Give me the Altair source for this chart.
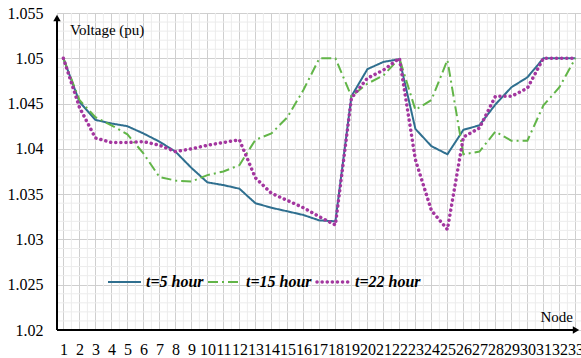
import altair as alt
import pandas as pd
import numpy as np

nodes = list(range(1, 34))
v_t5 = [1.05, 1.0452, 1.0432, 1.0428, 1.0425, 1.0417, 1.0408, 1.0397, 1.0379, 1.0363,
        1.0360, 1.0356, 1.0340, 1.0335, 1.0331, 1.0327, 1.0321, 1.0320, 1.0458, 1.0488,
        1.0496, 1.0499, 1.0422, 1.0403, 1.0394, 1.0421, 1.0426, 1.0449, 1.0468, 1.0479,
        1.05, 1.05, 1.05]
v_t15 = [1.05, 1.0454, 1.0435, 1.0426, 1.0416, 1.0395, 1.0369, 1.0365, 1.0364, 1.0371,
         1.0375, 1.0382, 1.0410, 1.0417, 1.0435, 1.0465, 1.05, 1.05, 1.0458, 1.0472,
         1.0481, 1.05, 1.0443, 1.0454, 1.0498, 1.0394, 1.0397, 1.0419, 1.0409, 1.0409,
         1.0448, 1.0468, 1.05]
v_t22 = [1.05, 1.0446, 1.0412, 1.0407, 1.0407, 1.0408, 1.0404, 1.0397, 1.0400, 1.0404,
         1.0407, 1.0410, 1.0368, 1.0351, 1.0343, 1.0335, 1.0325, 1.0316, 1.0456, 1.0478,
         1.0487, 1.05, 1.0388, 1.0332, 1.0311, 1.0413, 1.0423, 1.0458, 1.0458, 1.0467,
         1.05, 1.05, 1.05]
series_names = ["t=5 hour", "t=15 hour", "t=22 hour"]
y_ticks = [1.02, 1.025, 1.03, 1.035, 1.04, 1.045, 1.05, 1.055]

FONT = "Liberation Serif"
W, H = 524, 317
XDOM = [0.6, 33.35]
YDOM = [1.02, 1.055]

colors = ["#2f6f8f", "#62b548", "#a3369f"]
dashes = [[1, 0], [10, 4, 2, 4], [0.1, 5]]
widths = [2, 2, 3.5]
caps = ["butt", "butt", "round"]

xs = alt.Scale(domain=XDOM, nice=False, zero=False)
ys = alt.Scale(domain=YDOM, nice=False, zero=False)

XAX = alt.Axis(values=nodes, title=None, grid=True, gridColor="#cfcfcf",
               domain=False, ticks=False, labelFont=FONT, labelFontSize=16,
               labelColor="black", labelPadding=11, labelOverlap=False,
               labelFlush=False, format="d")
YAX = alt.Axis(values=y_ticks, title=None, grid=True, gridColor="#cfcfcf",
               domain=False, ticks=False, labelFont=FONT, labelFontSize=16,
               labelColor="black", labelPadding=14, format=".3~f")

# minor grid lines
minor_v = pd.DataFrame({"x": [n + 0.5 for n in range(1, 33)]})
minor_h = pd.DataFrame({"y": [round(1.02 + 0.001 * i, 3) for i in range(1, 35) if i % 5 != 0]})

grid_v = alt.Chart(minor_v).mark_rule(color="#ececec", strokeWidth=1).encode(
    x=alt.X("x:Q", scale=xs, axis=XAX))
grid_h = alt.Chart(minor_h).mark_rule(color="#ececec", strokeWidth=1).encode(
    y=alt.Y("y:Q", scale=ys, axis=YAX))

rows = []
for name, vals in zip(series_names, [v_t5, v_t15, v_t22]):
    for n, v in zip(nodes, vals):
        rows.append({"x": n, "y": v, "series": name})
df = pd.DataFrame(rows)

lines = []
for i, name in enumerate(series_names):
    lines.append(
        alt.Chart(df[df.series == name]).mark_line(
            color=colors[i], strokeWidth=widths[i], strokeDash=dashes[i], strokeCap=caps[i]
        ).encode(x=alt.X("x:Q", scale=xs, axis=XAX), y=alt.Y("y:Q", scale=ys, axis=YAX))
    )

# axis lines with arrows
one = pd.DataFrame({"a": [0]})
yline = alt.Chart(one).mark_rule(color="black", strokeWidth=2).encode(
    x=alt.value(0), y=alt.value(4), y2=alt.value(H))
xline = alt.Chart(one).mark_rule(color="black", strokeWidth=2).encode(
    x=alt.value(0), x2=alt.value(W - 6), y=alt.value(H))
yarrow = alt.Chart(one).mark_point(shape="triangle-up", filled=True, color="black",
                                   size=55, opacity=1).encode(x=alt.value(0), y=alt.value(5))
xarrow = alt.Chart(one).mark_point(shape="triangle-right", filled=True, color="black",
                                   size=55, opacity=1).encode(x=alt.value(W - 5), y=alt.value(H))

ytitle = alt.Chart(pd.DataFrame({"t": ["Voltage (pu)"]})).mark_text(
    font=FONT, fontSize=15, align="left", baseline="middle", color="black").encode(
    text="t:N", x=alt.value(13), y=alt.value(17))
xtitle = alt.Chart(pd.DataFrame({"t": ["Node"]})).mark_text(
    font=FONT, fontSize=15, align="right", baseline="middle", color="black").encode(
    text="t:N", x=alt.value(516), y=alt.value(304))

# manual legend
leg = []
leg_x = [51, 151, 260]
LY = 269
for i, name in enumerate(series_names):
    leg.append(alt.Chart(one).mark_rule(
        color=colors[i], strokeWidth=widths[i], strokeDash=dashes[i], strokeCap=caps[i]).encode(
        x=alt.value(leg_x[i]), x2=alt.value(leg_x[i] + 33), y=alt.value(LY)))
    leg.append(alt.Chart(pd.DataFrame({"t": [name]})).mark_text(
        font=FONT, fontSize=16, fontWeight="bold", fontStyle="italic", align="left",
        baseline="middle", color="black").encode(
        text="t:N", x=alt.value(leg_x[i] + 38), y=alt.value(LY)))

chart = alt.layer(grid_v, grid_h, *lines, yline, xline, yarrow, xarrow, ytitle, xtitle, *leg).properties(
    width=W, height=H,
    autosize=alt.AutoSizeParams(type="none"),
    padding={"left": 57, "top": 13, "right": 0, "bottom": 28},
).configure_view(stroke=None).configure(background="white")

chart.save("out.html", embed_options={"renderer": "svg", "actions": False})
